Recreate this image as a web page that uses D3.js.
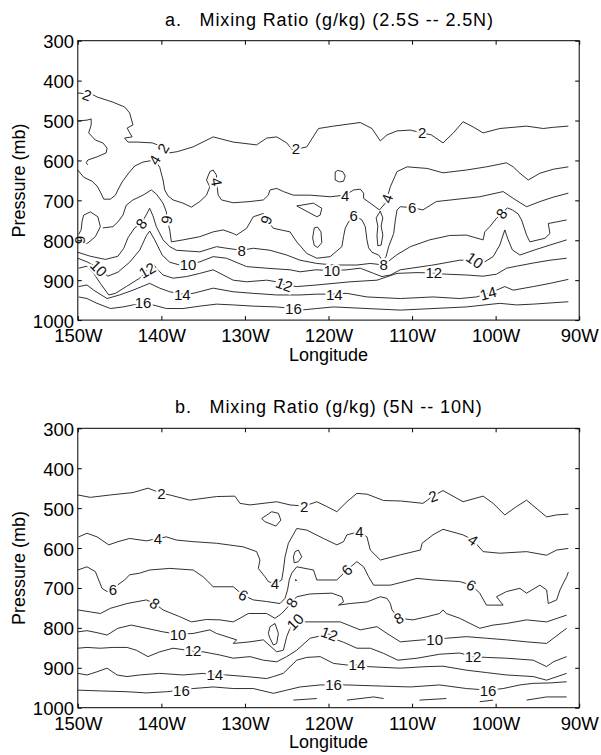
<!DOCTYPE html>
<html><head><meta charset="utf-8">
<script src="https://cdn.jsdelivr.net/npm/d3@7"></script>
<style>body{margin:0;background:#fff}svg{display:block}text{font-family:"Liberation Sans",Arial,Helvetica,sans-serif}</style>
</head><body><svg id="c" width="601" height="755"></svg>
<script>
const lonTicks=[150,140,130,120,110,100,90];
const presTicks=[300,400,500,600,700,800,900,1000];
const levels=[2,4,6,8,10,12,14,16,18];

// Panel a (2.5S -- 2.5N): contour polylines [lon (deg W), pressure (mb)]
const a2=[[150.0,431],[148.3,434],[147.7,441],[145.8,454],[144.4,466],[143.8,481],[143.4,511],[144.1,519],[143.5,541],[144.4,544],[144.0,554],[142.9,554],[141.1,556],[139.8,566],[139.0,581],[138.1,578],[136.2,566],[133.8,541],[131.4,554],[128.6,561],[127.4,544],[126.2,541],[125.0,556],[124.3,574],[122.6,566],[121.2,520],[119.4,514],[116.2,505],[114.8,520],[113.8,551],[113.0,536],[111.8,526],[110.2,524],[108.8,531],[107.7,536],[106.3,556],[105.1,532],[103.9,503],[102.7,516],[101.5,531],[99.5,520],[96.3,514],[94.3,520],[93.1,517],[91.3,514]];
const a2b=[[150.0,501],[148.9,499],[148.4,496],[148.4,511],[148.7,531],[147.9,549],[147.0,556],[146.5,569],[146.6,581],[147.7,591],[148.8,599],[149.0,606],[148.8,611]];
const a4=[[150.0,624],[149.3,642],[148.3,652],[147.7,664],[147.3,679],[146.9,697],[146.1,697],[145.5,687],[145.2,674],[144.7,654],[144.0,634],[143.2,614],[142.2,604],[140.8,599],[140.2,617],[139.8,649],[139.6,674],[139.2,689],[138.6,699],[137.4,707],[136.4,717],[135.4,703],[134.6,687],[134.2,666],[134.6,649],[134.2,628],[133.8,624],[133.4,637],[133.4,654],[133.2,687],[132.8,699],[131.4,706],[129.4,703],[127.8,699],[127.2,687],[127.0,674],[126.2,670],[125.4,678],[124.2,687],[122.2,687],[119.8,691],[118.0,687],[117.0,674],[116.2,672],[115.8,682],[115.8,695],[115.0,707],[113.9,724],[113.2,707],[113.0,695],[112.6,666],[111.8,628],[110.6,616],[108.2,620],[106.3,631],[103.5,624],[101.1,616],[98.7,606],[97.9,616],[97.1,632],[96.1,649],[94.7,632],[93.1,622],[91.3,616]];
const a4c=[[119.2,629],[118.9,625],[118.3,628],[118.0,639],[118.2,652],[118.7,654],[119.2,649],[119.2,629]];
const a4t=[[123.8,714],[121.8,707],[120.8,720],[121.0,737],[121.4,741],[123.8,714]];
const a4n=[[113.8,727],[113.5,744],[113.7,764],[113.5,787],[113.7,812],[114.1,814],[114.2,789],[114.1,764],[114.3,744],[113.8,727]];
const a6o=[[121.7,769],[121.3,767],[120.9,779],[120.8,806],[121.3,818],[121.7,813],[121.9,794],[121.7,769]];
const a6e=[[150.0,804],[149.5,809],[148.8,807],[147.9,791],[147.3,766],[147.6,741],[148.5,729],[149.3,737],[149.5,754],[149.6,774],[150.0,789]];
const a6=[[147.0,769],[145.8,766],[145.2,754],[144.6,737],[144.2,712],[143.4,699],[142.2,687],[141.2,674],[140.6,684],[139.8,707],[139.4,729],[139.3,749],[139.0,774],[138.8,804],[137.4,799],[135.4,791],[133.8,779],[132.6,774],[131.4,783],[131.0,787],[129.8,770],[129.0,741],[127.8,733],[127.4,749],[126.6,770],[124.6,779],[123.8,804],[122.6,833],[121.4,845],[119.8,841],[118.4,816],[118.2,791],[118.0,770],[117.6,754],[117.0,737],[116.0,749],[115.6,766],[115.4,799],[115.2,819],[114.8,830],[114.0,837],[113.5,852],[113.1,840],[112.8,816],[112.2,783],[112.0,749],[111.8,724],[111.4,716],[110.0,718],[108.7,724],[107.1,703],[101.9,691],[99.1,678],[97.9,695],[96.3,716],[94.7,703],[93.1,692],[91.3,682]];
const a8=[[150.0,830],[148.5,840],[146.7,848],[145.2,840],[144.5,820],[144.0,794],[143.2,769],[142.4,758],[141.7,732],[141.4,720],[141.0,739],[140.6,766],[139.8,799],[139.0,816],[138.2,825],[135.4,829],[133.4,816],[132.2,820],[130.4,825],[129.0,820],[127.0,825],[125.0,837],[123.4,850],[121.4,858],[119.4,862],[116.6,862],[115.0,858],[113.4,862],[111.8,836],[110.2,816],[107.9,799],[105.5,788],[103.5,787],[101.5,799],[101.3,779],[100.7,766],[99.9,745],[99.3,733],[98.6,719],[98.0,724],[97.3,734],[96.9,749],[96.3,787],[95.9,804],[94.1,795],[93.5,783],[93.7,758],[92.7,754],[91.5,749]];
const a10=[[150.0,845],[148.8,855],[147.5,870],[146.4,890],[145.2,880],[143.8,855],[142.6,825],[141.8,789],[141.4,777],[140.8,799],[139.9,837],[139.0,855],[137.8,862],[136.8,862],[135.4,854],[133.8,841],[132.2,845],[129.8,866],[127.4,870],[124.6,874],[123.4,879],[121.5,874],[119.6,876],[117.8,874],[116.2,870],[114.6,883],[113.6,891],[112.6,887],[111.4,874],[107.5,862],[104.3,850],[102.5,850],[101.3,854],[100.3,841],[99.5,812],[98.9,774],[98.5,799],[98.0,824],[97.1,837],[95.3,824],[93.5,812],[91.5,799]];
const a12=[[149.9,870],[148.9,865],[148.1,883],[147.3,908],[146.3,937],[145.5,933],[144.2,916],[142.6,895],[142.1,885],[141.6,870],[141.0,858],[140.6,870],[139.8,887],[138.6,895],[137.0,891],[135.4,883],[133.8,874],[131.4,900],[129.8,904],[127.4,900],[126.2,904],[125.3,911],[123.8,916],[121.4,912],[117.4,904],[114.2,900],[111.8,883],[109.4,881],[107.4,882],[105.9,885],[103.5,887],[101.5,890],[99.9,885],[98.7,870],[97.5,865],[95.5,857],[93.5,850],[91.5,845]];
const a14=[[149.9,916],[148.9,912],[148.1,925],[146.5,946],[145.0,937],[143.4,925],[141.4,908],[140.2,920],[139.0,929],[137.5,935],[136.2,933],[133.8,920],[131.4,929],[129.0,933],[126.2,937],[123.4,937],[121.4,935],[119.3,935],[117.8,933],[115.4,942],[111.4,946],[107.5,942],[104.3,946],[102.3,942],[100.9,933],[99.9,925],[98.9,916],[97.9,925],[95.5,916],[93.5,908],[91.3,898]];
const a16=[[149.9,942],[148.9,946],[147.7,958],[146.1,971],[144.6,967],[143.4,962],[142.2,955],[141.0,962],[139.4,971],[137.4,971],[135.4,965],[133.4,960],[131.4,962],[129.0,965],[126.2,967],[124.2,971],[123.4,975],[121.4,971],[119.4,967],[115.4,971],[111.4,975],[107.5,971],[103.5,967],[99.5,958],[97.5,962],[95.5,960],[91.3,954]];
// contour labels [level, lon, pressure, rotation]
const aLabels=[[2,148.9,436,20],[2,139.8,569,-60],[2,123.9,571,0],[2,108.8,531,0],
[4,140.8,599,-60],[4,133.4,654,80],[4,118.0,687,0],[4,113.0,695,-70],
[6,149.7,799,90],[6,139.3,749,100],[6,127.4,749,110],[6,117.0,737,0],[6,110.0,718,0],
[8,142.4,758,-50],[8,130.4,825,0],[8,113.4,862,0],[8,99.3,733,-50],
[10,147.5,870,45],[10,136.8,862,0],[10,119.6,876,0],[10,102.5,850,35],
[12,141.7,875,-30],[12,125.3,911,20],[12,107.4,882,0],
[14,137.5,935,0],[14,119.3,935,0],[14,100.9,933,-15],
[16,142.2,955,0],[16,124.2,971,0]];

// Panel b (5N -- 10N)
const b2=[[150.0,467],[148.5,473],[146.1,467],[143.4,461],[141.6,450],[140.0,463],[139.0,467],[136.6,480],[133.4,471],[131.2,470],[130.6,488],[129.4,492],[126.2,484],[124.6,492],[122.9,495],[121.4,484],[120.2,496],[119.0,509],[117.8,484],[116.6,463],[115.4,465],[113.4,481],[111.4,482],[108.7,488],[107.5,470],[106.3,456],[103.9,484],[101.5,470],[100.3,488],[98.9,517],[97.5,496],[96.3,480],[93.9,522],[92.7,517],[91.3,515]];
const b2s=[[128.0,526],[126.8,509],[126.0,513],[125.7,530],[126.3,545],[127.6,534],[128.0,526]];
const b4=[[149.9,572],[148.9,563],[147.7,572],[146.3,592],[145.2,584],[143.8,576],[141.8,582],[140.4,576],[139.4,572],[138.2,580],[136.2,584],[133.4,588],[130.2,597],[128.6,609],[128.2,630],[128.4,651],[127.6,672],[127.2,684],[126.4,690],[125.6,680],[125.4,655],[125.2,622],[124.8,588],[123.8,551],[122.6,555],[120.6,576],[119.0,592],[118.2,584],[117.8,567],[116.3,559],[115.4,572],[115.0,605],[113.8,630],[111.4,617],[109.0,605],[108.8,588],[107.5,567],[106.3,553],[103.9,567],[102.7,580],[101.5,609],[99.5,613],[96.3,609],[93.9,618],[92.7,605],[91.3,601]];
const b4s=[[124.0,609],[123.6,605],[123.2,622],[123.6,634],[124.1,637],[124.2,622],[124.0,609]];
const b4d=[[123.95,679],[123.8,681],[123.95,682],[123.95,679]];
const b6=[[150.0,655],[148.9,647],[147.9,659],[147.5,680],[147.1,701],[146.5,709],[145.8,705],[145.2,692],[144.4,680],[143.8,667],[142.6,663],[141.4,655],[139.0,651],[136.2,655],[135.0,672],[133.8,697],[131.4,697],[130.2,718],[129.0,730],[127.4,734],[125.8,739],[125.2,726],[124.9,705],[124.7,680],[124.4,663],[123.8,647],[121.8,655],[121.4,680],[119.0,680],[117.8,655],[116.6,634],[115.8,647],[115.2,672],[114.6,693],[112.6,693],[109.4,676],[107.5,680],[104.3,684],[102.9,693],[101.9,713],[101.1,743],[99.1,743],[99.9,722],[98.7,709],[97.1,701],[96.3,713],[94.7,693],[93.9,705],[93.7,739],[92.7,730],[92.3,705],[91.9,688],[91.5,672],[91.3,660]];
const b8=[[150.0,755],[148.5,760],[147.3,764],[146.1,751],[144.1,739],[141.8,730],[140.8,739],[139.8,755],[137.8,772],[136.4,785],[134.6,779],[133.0,780],[131.4,785],[130.6,776],[129.6,764],[127.4,764],[126.4,776],[125.6,764],[124.4,737],[123.8,722],[122.2,715],[119.6,713],[118.4,722],[118.2,735],[118.8,743],[117.4,739],[115.4,735],[113.8,722],[113.0,726],[112.6,739],[112.4,755],[111.6,776],[109.9,780],[108.2,772],[106.7,764],[106.3,755],[105.9,764],[104.3,776],[101.9,801],[100.3,793],[98.7,789],[96.3,780],[93.9,785],[91.5,768]];
const b10=[[150.0,810],[148.9,807],[147.7,812],[146.5,818],[145.2,801],[143.6,793],[141.8,801],[139.8,810],[138.0,816],[136.2,814],[134.2,805],[133.4,814],[131.0,830],[131.4,839],[129.4,835],[127.8,830],[126.2,860],[125.4,856],[125.0,822],[124.6,801],[124.0,785],[122.8,785],[121.0,785],[118.6,785],[116.2,805],[114.2,797],[113.0,814],[111.4,835],[108.7,830],[107.3,829],[105.9,826],[103.5,822],[101.1,826],[98.7,830],[96.3,835],[93.9,839],[91.5,801]];
const b10o=[[127.0,797],[126.4,789],[126.0,814],[126.2,839],[126.6,843],[127.0,826],[127.2,814],[127.0,797]];
const b12=[[150.0,851],[148.9,849],[147.3,851],[145.8,849],[144.1,849],[143.0,856],[141.6,872],[140.2,860],[138.6,851],[136.2,858],[135.0,860],[133.0,868],[131.4,876],[129.4,872],[127.8,881],[126.2,885],[125.0,872],[123.8,856],[122.2,826],[119.9,815],[119.0,830],[118.2,836],[116.6,851],[115.0,851],[113.4,864],[111.7,881],[109.4,876],[106.7,866],[104.3,863],[102.7,872],[101.1,874],[98.7,876],[95.5,881],[93.9,897],[93.1,885],[91.5,872]];
const b14=[[150.0,914],[148.9,918],[147.7,910],[146.5,901],[145.3,918],[144.1,922],[142.6,918],[140.2,914],[137.4,918],[135.0,914],[133.6,918],[132.2,918],[129.8,922],[127.4,927],[126.6,922],[125.4,914],[123.8,881],[122.6,874],[121.0,872],[119.4,889],[117.8,893],[116.6,893],[115.4,897],[111.4,901],[108.2,897],[106.3,896],[103.5,906],[101.1,912],[98.7,918],[95.5,922],[93.9,931],[91.5,914]];
const b16=[[150.0,956],[147.3,958],[144.1,960],[141.8,963],[139.4,960],[137.6,956],[136.2,952],[133.8,948],[131.4,952],[129.0,952],[126.6,964],[125.0,956],[123.4,948],[121.0,943],[119.4,943],[117.8,943],[113.4,946],[110.2,948],[106.7,943],[103.5,952],[100.9,956],[99.1,952],[97.1,943],[95.5,939],[93.5,938],[91.5,935]];
const b18a=[[124.2,981],[121.4,977]];
const b18b=[[117.8,981],[114.6,973],[113.4,977]];
const b18c=[[109.1,981],[105.9,977]];
const b18d=[[101.9,985],[100.3,981]];
const b18e=[[96.3,981],[93.9,973],[91.5,973]];
const bLabels=[[2,140.0,463,0],[2,122.9,495,0],[2,107.5,470,-20],
[4,140.4,576,0],[4,126.4,690,0],[4,116.3,559,0],[4,102.7,580,35],
[6,145.8,705,0],[6,130.2,718,30],[6,117.8,655,-45],[6,102.9,693,30],
[8,140.8,739,35],[8,124.4,737,-60],[8,111.6,776,-30],
[10,138.0,816,0],[10,124.0,785,-45],[10,107.3,829,0],
[12,136.2,858,0],[12,119.9,815,20],[12,102.7,872,0],
[14,133.6,918,0],[14,116.6,893,0],
[16,137.6,956,0],[16,119.4,943,0],[16,100.9,956,0]];

const panels=[
 {top:40.7,title:"a.   Mixing Ratio (g/kg) (2.5S -- 2.5N)",tx:165,tw:328,ty:25.7,
  lines:[[2,a2],[2,a2b],[4,a4],[4,a4c],[4,a4t],[4,a4n],[6,a6o],[6,a6e],[6,a6],[8,a8],[10,a10],[12,a12],[14,a14],[16,a16]],labels:aLabels},
 {top:428.3,title:"b.   Mixing Ratio (g/kg) (5N -- 10N)",tx:175,tw:306.7,ty:413.3,
  lines:[[2,b2],[2,b2s],[4,b4],[4,b4s],[4,b4d],[6,b6],[8,b8],[10,b10],[10,b10o],[12,b12],[14,b14],[16,b16],[18,b18a],[18,b18b],[18,b18c],[18,b18d],[18,b18e]],labels:bLabels}
];

const svg=d3.select('#c');
const X0=77.8,X1=579.2,PH=279.4;
panels.forEach(P=>{
 const x=d3.scaleLinear().domain([150,90]).range([X0,X1]);
 const y=d3.scaleLinear().domain([300,1000]).range([P.top,P.top+PH]);
 const g=svg.append('g');
 const line=d3.line().x(d=>x(d[0])).y(d=>y(d[1]));
 g.append('g').selectAll('path').data(P.lines).join('path')
  .attr('d',d=>line(d[1])).attr('fill','none').attr('stroke','#1a1a1a').attr('stroke-width',0.9).attr('stroke-linejoin','round');
 g.append('g').selectAll('text').data(P.labels).join('text')
  .attr('transform',d=>`translate(${x(d[1])},${y(d[2])}) rotate(${d[3]})`)
  .attr('text-anchor','middle').attr('dy','0.36em')
  .attr('font-size',15).attr('fill','#111')
  .attr('stroke','#fff').attr('stroke-width',4).attr('paint-order','stroke')
  .text(d=>d[0]);
 // axes (ticks point inward)
 const ax=[
  [d3.axisBottom(x).tickValues(lonTicks).tickFormat(d=>d+'W').tickPadding(9),`translate(0,${P.top+PH})`,'b'],
  [d3.axisTop(x).tickValues(lonTicks).tickFormat(''),`translate(0,${P.top})`,'t'],
  [d3.axisLeft(y).tickValues(presTicks).tickFormat(d=>String(d)).tickPadding(3.8),`translate(${X0},0)`,'l'],
  [d3.axisRight(y).tickValues(presTicks).tickFormat(''),`translate(${X1},0)`,'r']
 ];
 ax.forEach(([a,t,k])=>{
  const ag=g.append('g').attr('transform',t).call(a.tickSizeInner(-4).tickSizeOuter(0));
  ag.select('.domain').remove();
  ag.selectAll('line').attr('stroke','#000');
  ag.selectAll('text').attr('font-size','18.5px').attr('fill','#000').style('font-family','"Liberation Sans",Arial,sans-serif');
  if(k==='l') ag.selectAll('text').attr('dy','0.38em');
 });
 g.append('rect').attr('x',X0).attr('y',P.top).attr('width',X1-X0).attr('height',PH)
  .attr('fill','none').attr('stroke','#000').attr('stroke-width',1);
 g.append('text').attr('x',P.tx).attr('y',P.ty).attr('font-size',18).attr('fill','#000')
  .attr('textLength',P.tw).attr('lengthAdjust','spacing').style('white-space','pre').text(P.title);
 g.append('text').attr('x',(X0+X1)/2).attr('y',P.top+PH+40.5).attr('text-anchor','middle')
  .attr('font-size',18).attr('fill','#000').text('Longitude');
 g.append('text').attr('transform',`translate(24.5,${P.top+PH/2}) rotate(-90)`).attr('text-anchor','middle')
  .attr('font-size',18).attr('fill','#000').text('Pressure (mb)');
});
</script></body></html>
